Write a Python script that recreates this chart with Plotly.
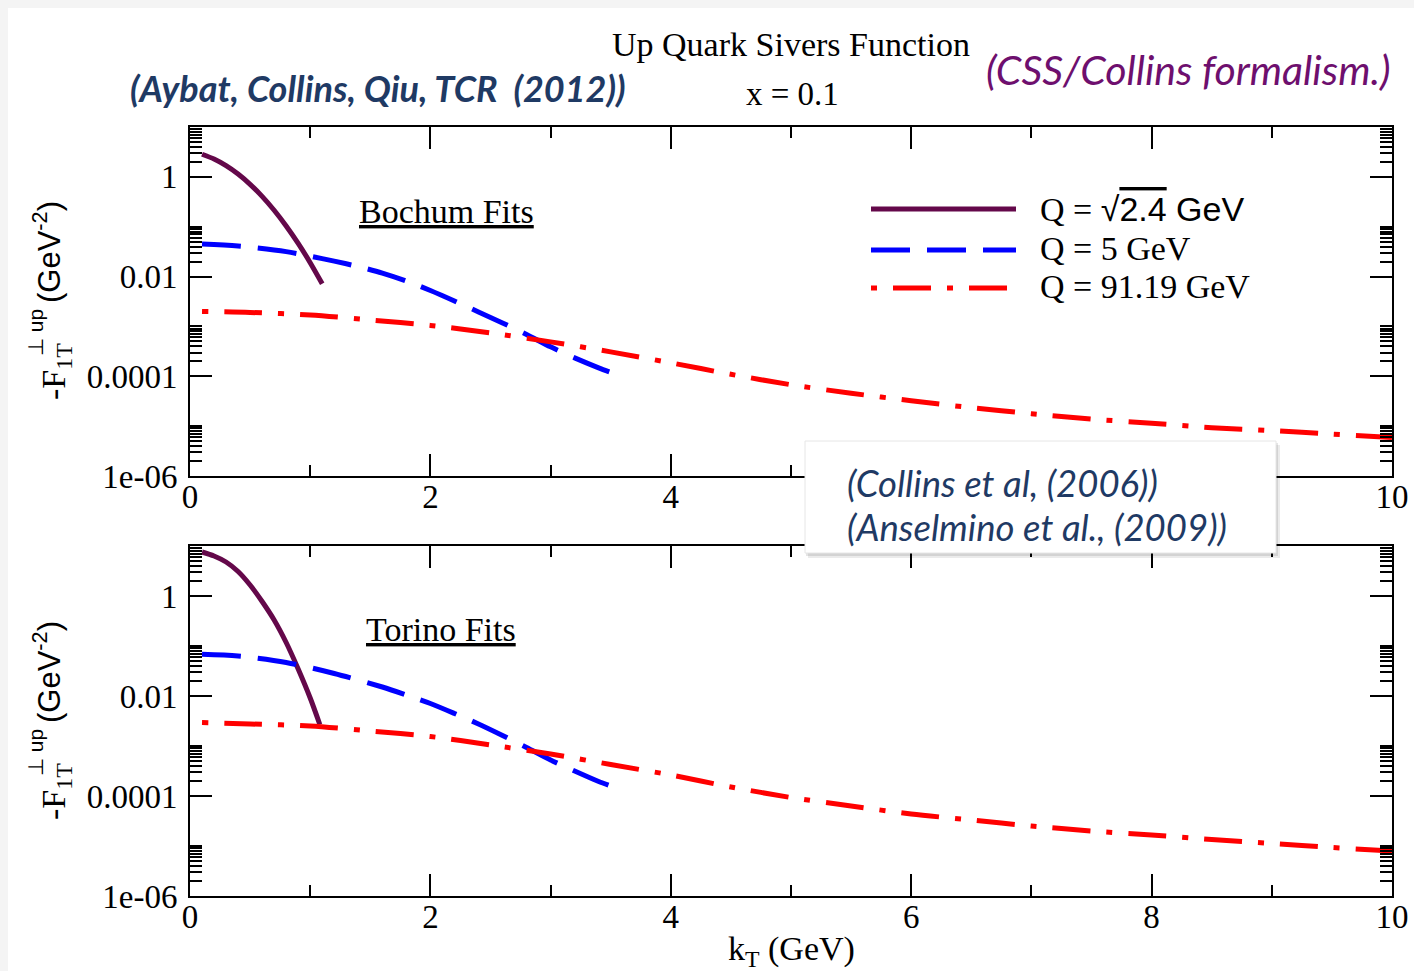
import numpy as np
import plotly.graph_objects as go

W, H = 1414, 971

# ---------------- data (log10 of -F_1T^{perp up}) -------------
# Bochum fits (top panel)
kt_b_q1 = [0.1, 0.2, 0.3, 0.4, 0.5, 0.6, 0.7, 0.8, 0.9, 1.0, 1.1]
lg_b_q1 = [0.454, 0.358, 0.225, 0.056, -0.150, -0.391, -0.669, -0.984, -1.334, -1.721, -2.144]

kt_b_q5 = [0.1, 0.4, 0.8, 1.0, 1.2, 1.4, 1.6, 1.8, 2.0, 2.2, 2.4, 2.6, 2.8, 3.0, 3.2,
           3.4, 3.5]
lg_b_q5 = [-1.347, -1.385, -1.50, -1.59, -1.69, -1.80, -1.93, -2.09, -2.28, -2.49, -2.71,
           -2.93, -3.16, -3.41, -3.63, -3.83, -3.92]

kt_b_q91 = [0.1, 0.5, 1.0, 1.5, 2.0, 2.5, 3.0, 3.5, 4.0, 4.5, 5.0, 5.5, 6.0, 6.5, 7.0,
            7.5, 8.0, 8.5, 9.0, 9.5, 10.0]
lg_b_q91 = [-2.70, -2.72, -2.77, -2.87, -2.98, -3.13, -3.31, -3.51, -3.73, -3.96, -4.17,
            -4.34, -4.49, -4.63, -4.75, -4.86, -4.94, -5.03, -5.09, -5.16, -5.23]

# Torino fits (bottom panel)
kt_t_q1 = [0.1, 0.2, 0.3, 0.4, 0.5, 0.6, 0.7, 0.8, 0.9, 1.0, 1.08]
lg_t_q1 = [0.88, 0.80, 0.68, 0.49, 0.22, -0.11, -0.48, -0.93, -1.46, -2.04, -2.57]

kt_t_q5 = [0.1, 0.4, 0.8, 1.2, 1.6, 1.8, 2.0, 2.2, 2.4, 2.6, 2.8, 3.0, 3.2, 3.4, 3.5]
lg_t_q5 = [-1.166, -1.20, -1.33, -1.55, -1.82, -1.98, -2.15, -2.35, -2.56, -2.79, -3.03,
           -3.28, -3.50, -3.71, -3.80]

kt_t_q91 = [0.1, 0.5, 1.0, 1.5, 2.0, 2.5, 3.0, 3.5, 4.0, 4.5, 5.0, 5.5, 6.0, 6.5, 7.0,
            7.5, 8.0, 8.5, 9.0, 9.5, 10.0]
lg_t_q91 = [-2.53, -2.56, -2.60, -2.70, -2.81, -2.98, -3.16, -3.37, -3.58, -3.82, -4.03,
            -4.20, -4.36, -4.48, -4.60, -4.70, -4.78, -4.87, -4.95, -5.03, -5.10]

x_ticks = [0, 2, 4, 6, 8, 10]
x_ticktext_top = ["0", "2", "4", "", "", "10"]      # 6 and 8 hidden behind the box
x_ticktext_bottom = ["0", "2", "4", "6", "8", "10"]
x_minor = [1, 3, 5, 7, 9]
y_ticks = [1e-6, 1e-4, 1e-2, 1]
y_ticktext = ["1e-06", "0.0001", "0.01", "1"]
y_minor = [k * b for b in (1e-6, 1e-4, 1e-2, 1) for k in range(2, 11)]

legend_labels = [
    "Q = <span style='font-family:Liberation Sans'>\u221a</span>"
    "<span style='font-family:Liberation Sans;text-decoration:overline'>2.4</span>"
    "<span style='font-family:Liberation Sans'> GeV</span>",
    "Q = 5 GeV",
    "Q = 91.19 GeV",
]

# ---------------- styles --------------------------------------------------------------
PURPLE = "#64084A"
BLUE = "#0000FF"
RED = "#FF0000"
SERIF = "Liberation Serif"
SANS = "Liberation Sans"
CAL = "Lato"
NAVY = "#1F3A64"
styles = [
    dict(color=PURPLE, width=5, dash="solid"),
    dict(color=BLUE, width=5, dash="39px,17px"),
    dict(color=RED, width=5, dash="6px,16px,38px,16px"),
]

def px(x):
    return x / W

def py(y):
    return 1 - y / H

fig = go.Figure()

panels = [
    ("x", "y", [(kt_b_q1, lg_b_q1), (kt_b_q5, lg_b_q5), (kt_b_q91, lg_b_q91)]),
    ("x2", "y2", [(kt_t_q1, lg_t_q1), (kt_t_q5, lg_t_q5), (kt_t_q91, lg_t_q91)]),
]
for xa, ya, series in panels:
    for (kx, lg), st, name in zip(series, styles, ["Q1", "Q5", "Q91"]):
        fig.add_trace(go.Scatter(x=kx, y=np.power(10.0, lg), mode="lines",
                                 line=dict(st, shape="spline", smoothing=0.8),
                                 xaxis=xa, yaxis=ya, showlegend=False, name=name))

tickfont = dict(family=SERIF, size=33, color="black")

def xcfg(anchor, ticktext):
    return dict(anchor=anchor, domain=[px(190), px(1392)], range=[0, 10],
                automargin=False, ticklabelstandoff=-10,
                showline=True, linecolor="black", linewidth=2, mirror="ticks",
                ticks="inside", ticklen=22, tickwidth=2, tickcolor="black",
                tickmode="array", tickvals=x_ticks, ticktext=ticktext,
                tickfont=tickfont, showgrid=False, zeroline=False,
                minor=dict(tickmode="array", tickvals=x_minor, ticks="inside",
                           ticklen=11, tickwidth=2, tickcolor="black", showgrid=False))

def ycfg(anchor, top, bot):
    return dict(anchor=anchor, domain=[py(bot), py(top)], type="log", range=[-6, 1],
                automargin=False, ticklabelstandoff=4,
                showline=True, linecolor="black", linewidth=2, mirror="ticks",
                ticks="inside", ticklen=22, tickwidth=2, tickcolor="black",
                tickmode="array", tickvals=y_ticks, ticktext=y_ticktext,
                tickfont=tickfont, showgrid=False, zeroline=False,
                minor=dict(tickmode="array", tickvals=y_minor, ticks="inside",
                           ticklen=12, tickwidth=1.5, tickcolor="black", showgrid=False))

fig.update_layout(
    width=W, height=H, margin=dict(l=0, r=0, t=0, b=0, autoexpand=False),
    paper_bgcolor="#f4f4f4", plot_bgcolor="white",
    xaxis=xcfg("y", x_ticktext_top), yaxis=ycfg("x", 127, 476),
    xaxis2=xcfg("y2", x_ticktext_bottom), yaxis2=ycfg("x2", 546, 896),
)

shapes = []
# page
shapes.append(dict(type="rect", xref="paper", yref="paper", x0=px(8), x1=1, y0=0, y1=py(8),
                   fillcolor="white", line=dict(width=0), layer="below"))
# legend samples
for st, yy in zip(styles, [209, 250, 288]):
    shapes.append(dict(type="line", xref="paper", yref="paper", x0=px(871), x1=px(1016),
                       y0=py(yy), y1=py(yy), line=st, layer="above"))
# reference box with shadow
shapes.append(dict(type="rect", xref="paper", yref="paper", x0=px(808), x1=px(1280),
                   y0=py(558), y1=py(445), fillcolor="rgba(0,0,0,0.08)", line=dict(width=0),
                   layer="above"))
shapes.append(dict(type="rect", xref="paper", yref="paper", x0=px(806), x1=px(1278),
                   y0=py(556), y1=py(443), fillcolor="rgba(0,0,0,0.10)", line=dict(width=0),
                   layer="above"))
shapes.append(dict(type="rect", xref="paper", yref="paper", x0=px(805), x1=px(1276),
                   y0=py(553), y1=py(441), fillcolor="white",
                   line=dict(width=1, color="#e6e6e6"), layer="above"))
fig.update_layout(shapes=shapes)

ann = []

def text(x, y, s, size, family=SERIF, color="black", xanchor="center", angle=0):
    ann.append(dict(x=px(x), y=py(y), xref="paper", yref="paper", text=s, showarrow=False,
                    xanchor=xanchor, yanchor="middle", textangle=angle,
                    font=dict(family=family, size=size, color=color)))

text(791, 44, "Up Quark Sivers Function", 34)
text(792, 94, "x = 0.1", 33)
text(378, 88, "<b><i>(Aybat, Collins, Qiu, TCR  (2012))</i></b>", 36, CAL, NAVY)
text(1188, 70, "<i>(CSS/Collins formalism.)</i>", 41, CAL, "#6E0F6E")
text(446, 212, "<u>Bochum Fits</u>", 34)
text(441, 629, "<u>Torino Fits</u>", 34)
for lab, yy in zip(legend_labels, [209, 248, 286]):
    text(1038, yy, lab, 34, xanchor="left")
text(845, 483, "<i>(Collins et al, (2006))</i>", 36.5, CAL, NAVY, xanchor="left")
text(845, 527, "<i>(Anselmino et al., (2009))</i>", 36.5, CAL, NAVY, xanchor="left")
text(791, 951, "k<sub>T</sub> (GeV)", 34)
for dy in (0, 420):
    text(56, 372 + dy, "-F<sub>1T</sub>", 34, angle=-90)
    text(35, 333 + dy, "\u22a5 up", 21, SANS, angle=-90)
    text(47, 252 + dy, "(GeV<sup>-2</sup>)", 31, SANS, angle=-90)
fig.update_layout(annotations=ann)

fig.write_html("out.html")
